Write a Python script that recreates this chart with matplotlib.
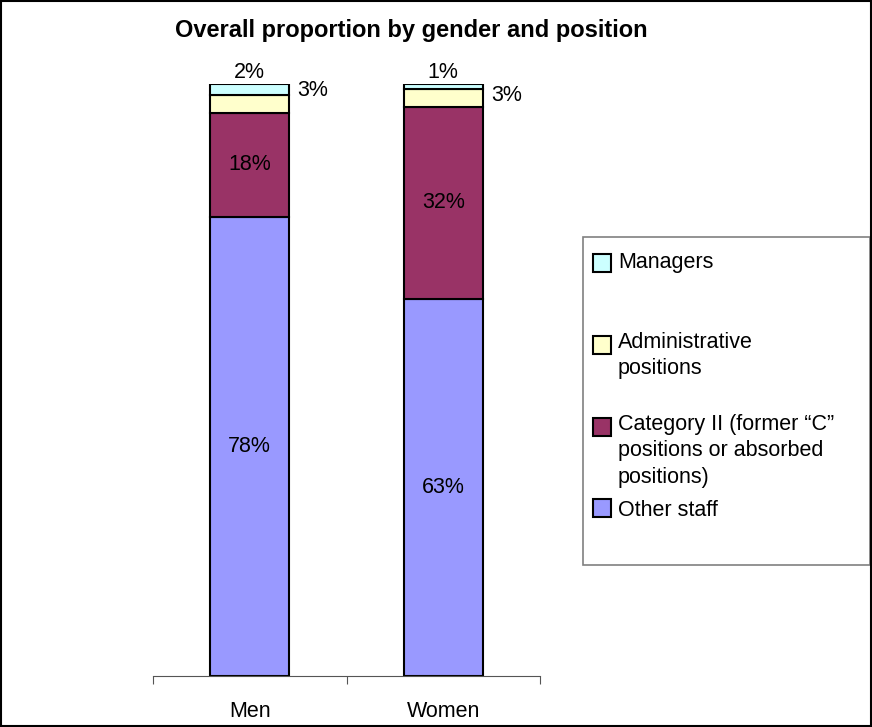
import numpy as np
import matplotlib.pyplot as plt
from matplotlib.patches import Rectangle

plt.rcParams['font.family'] = ['Liberation Sans', 'DejaVu Sans']

# Daten
gruppen = ["Men", "Women"]
kategorien = ["Other staff", "Category II (former \u201cC\u201d\npositions or absorbed\npositions)",
              "Administrative\npositions", "Managers"]
other_staff = [77.6, 63.7]
category_ii = [17.5, 32.4]
administrative = [3.0, 3.0]
managers = [1.9, 0.9]
label_other = ["78%", "63%"]
label_cat = ["18%", "32%"]
label_admin = ["3%", "3%"]
label_man = ["2%", "1%"]

farben = ['#9999FF', '#993366', '#FFFFCC', '#CCFFFF']

fig = plt.figure(figsize=(8.72, 7.27), dpi=100)
ax = fig.add_axes([153/872, 51/727, 387/872, 592/727])

x = np.arange(len(gruppen))
serien = [other_staff, category_ii, administrative, managers]
unten = np.zeros(len(gruppen))
for werte, farbe in zip(serien, farben):
    ax.bar(x, werte, 0.41, bottom=unten, color=farbe, edgecolor='black', linewidth=1.5)
    unten += np.array(werte)

ax.set_xlim(-0.5, 1.5)
ax.set_ylim(0, 100)

# Beschriftungen in den Balken
for i in x:
    ax.text(i, other_staff[i] / 2, label_other[i], ha='center', va='center', fontsize=15.5)
    ax.text(i, other_staff[i] + category_ii[i] / 2, label_cat[i], ha='center', va='center', fontsize=15.5)
    oben_admin = other_staff[i] + category_ii[i] + administrative[i]
    ax.annotate(label_admin[i], (i + 0.205, oben_admin), xytext=(8, [5, -6][i]),
                textcoords='offset pixels', ha='left', va='center', fontsize=15.5)
    ax.annotate(label_man[i], (i, oben_admin + managers[i]), xytext=(0, 1),
                textcoords='offset pixels', ha='center', va='bottom', fontsize=15.5)

# Achsen
for s in ['left', 'right', 'top']:
    ax.spines[s].set_visible(False)
ax.spines['bottom'].set_color('#555555')
ax.set_yticks([])
ax.set_xticks([-0.5, 0.5, 1.5])
ax.set_xticklabels([])
ax.tick_params(axis='x', which='major', length=6, color='#555555', direction='out')
ax.set_xticks(x, minor=True)
ax.set_xticklabels(gruppen, minor=True, fontsize=15.5)
ax.tick_params(axis='x', which='minor', length=0, pad=18)

fig.text(411/872, 1 - 30/727, "Overall proportion by gender and position",
         ha='center', va='center', fontsize=17, fontweight='bold')

# Legende (manuell)
fig.patches.append(Rectangle((583/872, 1 - 565/727), 287/872, 328/727, transform=fig.transFigure,
                             facecolor='white', edgecolor='#808080', linewidth=1.2))
marker_y = {3: 263, 2: 345, 1: 427, 0: 508}
text_y = {3: 263, 2: 343, 1: 425, 0: 511}
for k in [3, 2, 1, 0]:
    fig.patches.append(Rectangle((593/872, 1 - (marker_y[k] + 9)/727), 18/872, 18/727,
                                 transform=fig.transFigure, facecolor=farben[k],
                                 edgecolor='black', linewidth=1.5))
    fig.text(618/872, 1 - (text_y[k] - 11)/727, kategorien[k], ha='left', va='top',
             fontsize=15.5, linespacing=1.33)

# Rahmen
fig.patches.append(Rectangle((0.001, 0.001), 0.998, 0.998, transform=fig.transFigure,
                             fill=False, edgecolor='black', linewidth=1.5))

plt.savefig('out.png', dpi=100)
